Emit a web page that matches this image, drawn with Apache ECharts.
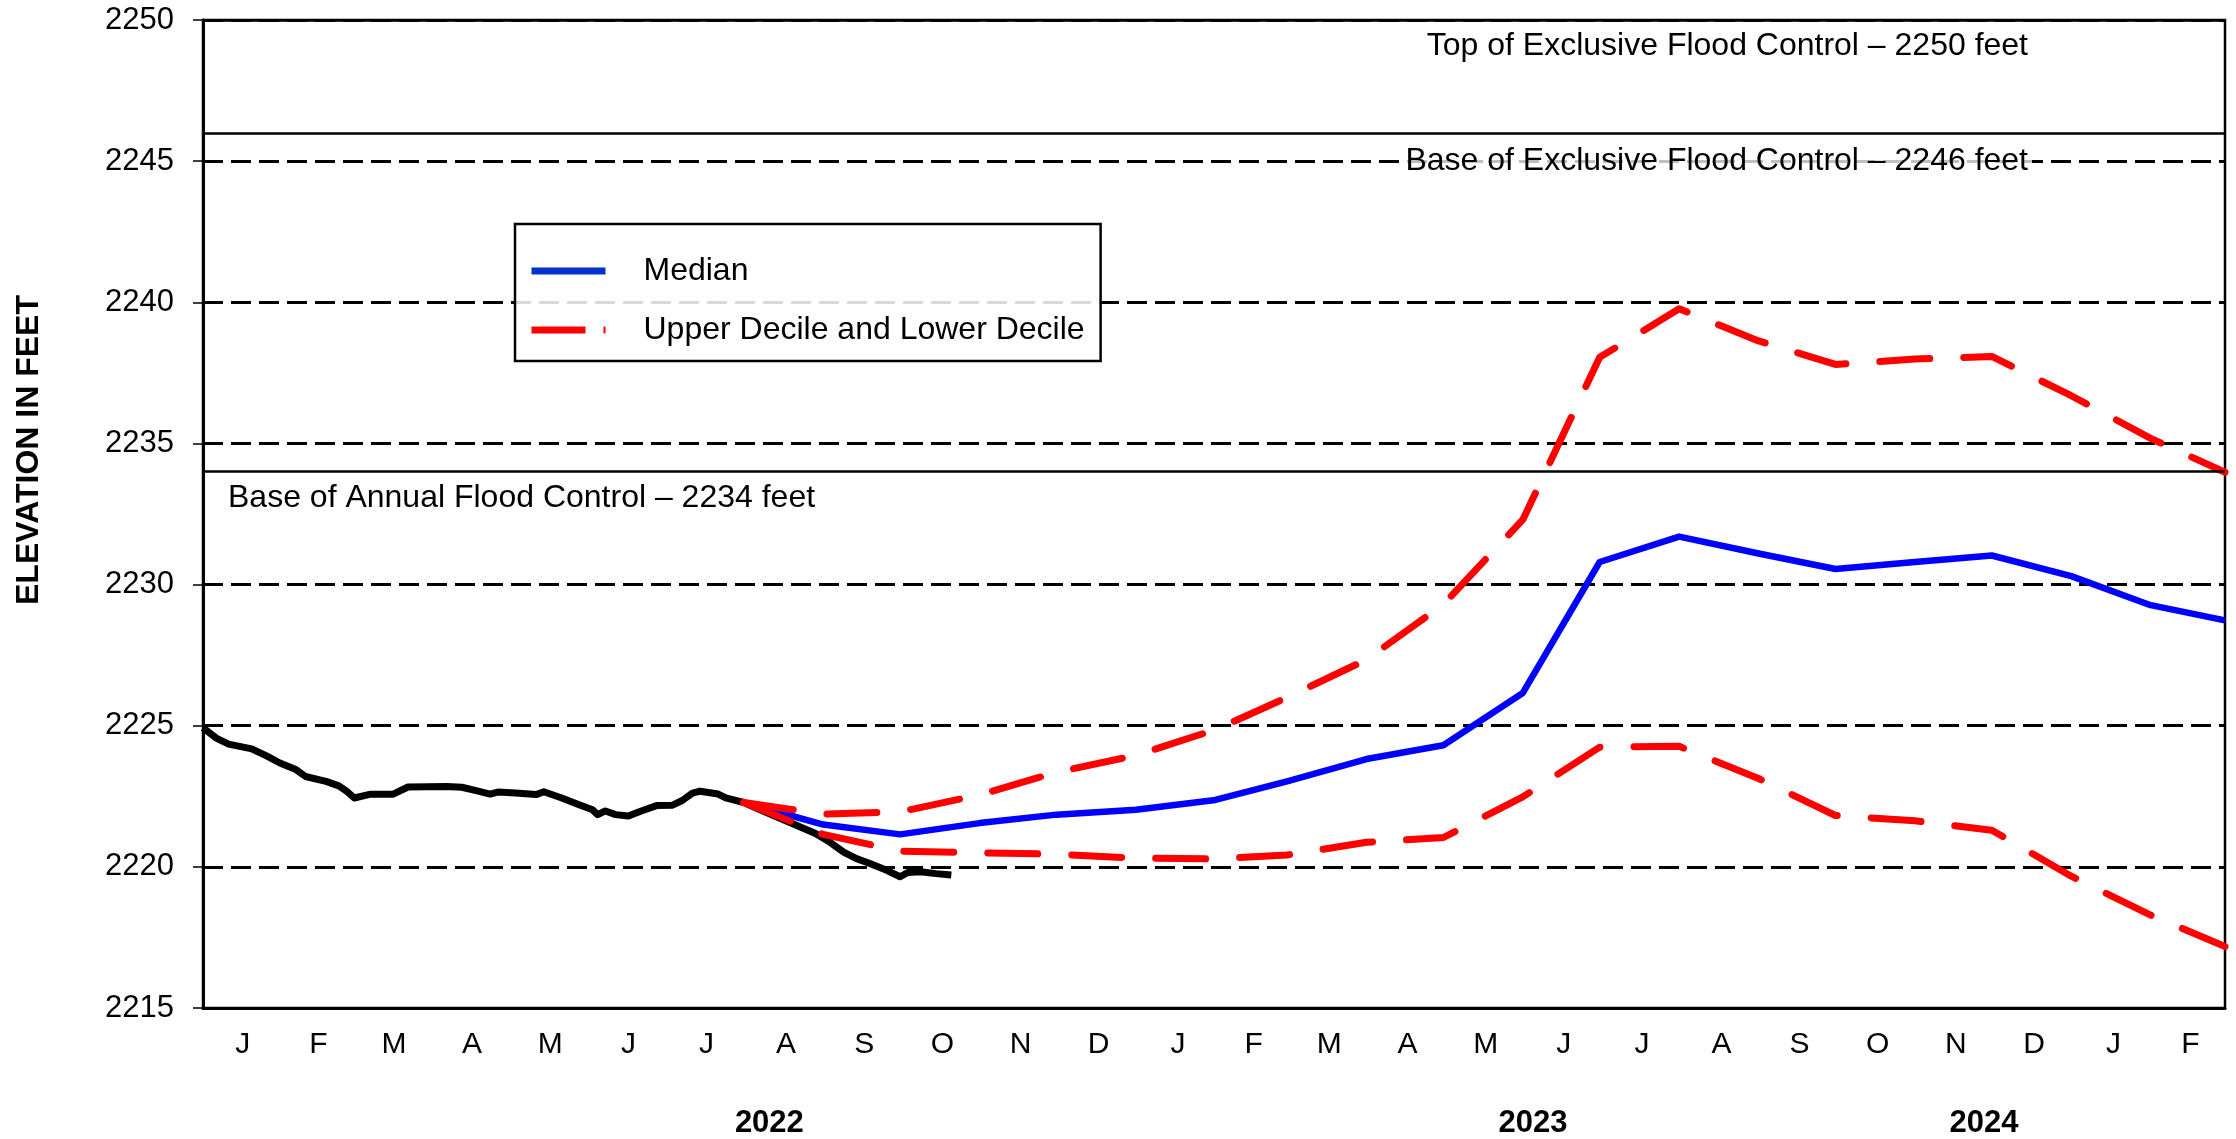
<!DOCTYPE html>
<html>
<head>
<meta charset="utf-8">
<script src="https://cdn.jsdelivr.net/npm/echarts@6/dist/echarts.min.js"></script>
<style>
  html, body { margin: 0; padding: 0; background: #ffffff; }
  #chart { width: 2236px; height: 1139px; }
</style>
</head>
<body>
<div id="chart"></div>
<script>
// ---- Reservoir elevation data (feet) ----
const obsDates = ['2022-01-01','2022-01-06','2022-01-11','2022-01-20','2022-01-26','2022-01-31',
  '2022-02-06','2022-02-10','2022-02-18','2022-02-23','2022-02-26','2022-03-01','2022-03-07',
  '2022-03-16','2022-03-22','2022-04-06','2022-04-12','2022-04-18','2022-04-23','2022-04-26',
  '2022-05-03','2022-05-11','2022-05-14','2022-05-21','2022-05-28','2022-06-02','2022-06-04',
  '2022-06-07','2022-06-11','2022-06-16','2022-06-21','2022-06-27','2022-07-03','2022-07-07',
  '2022-07-11','2022-07-14','2022-07-21','2022-07-24','2022-07-31','2022-08-08','2022-08-18',
  '2022-08-28','2022-09-02','2022-09-08','2022-09-13','2022-09-18','2022-09-25','2022-09-30',
  '2022-10-03','2022-10-08','2022-10-14','2022-10-20'];
const obsElev = [2224.93,2224.57,2224.35,2224.18,2223.92,2223.68,
  2223.46,2223.20,2223.03,2222.87,2222.68,2222.44,2222.57,
  2222.57,2222.83,2222.85,2222.82,2222.69,2222.58,2222.65,
  2222.62,2222.56,2222.66,2222.44,2222.19,2222.02,2221.85,
  2221.98,2221.85,2221.80,2221.98,2222.17,2222.18,2222.35,
  2222.61,2222.68,2222.58,2222.44,2222.28,2221.96,2221.57,
  2221.18,2220.91,2220.52,2220.29,2220.13,2219.87,2219.65,
  2219.80,2219.83,2219.76,2219.71];

// End-of-month projections
const fcDates = ['2022-07-31','2022-08-31','2022-09-30','2022-10-31','2022-11-30','2022-12-31',
  '2023-01-31','2023-02-28','2023-03-31','2023-04-30','2023-05-31','2023-06-30',
  '2023-07-31','2023-08-31','2023-09-30','2023-10-31','2023-11-30','2023-12-31',
  '2024-01-31','2024-02-29'];
const medianElev = [2222.28,2221.50,2221.15,2221.55,2221.85,2222.02,
  2222.37,2223.03,2223.82,2224.31,2226.16,2230.80,
  2231.70,2231.10,2230.55,2230.80,2231.03,2230.30,
  2229.27,2228.73];
const upperElev = [2222.28,2221.87,2221.95,2222.55,2223.35,2223.95,
  2224.86,2226.00,2227.34,2229.30,2232.30,2238.05,
  2239.77,2238.63,2237.80,2237.99,2238.08,2236.69,
  2235.18,2233.98];
const lowerElev = [2222.28,2221.15,2220.56,2220.50,2220.45,2220.31,
  2220.28,2220.42,2220.87,2221.04,2222.48,2224.24,
  2224.27,2223.13,2221.82,2221.63,2221.30,2219.67,
  2218.29,2217.18];

// Axis labels
const monthLetters = ['J','F','M','A','M','J','J','A','S','O','N','D'];
const yearLabels = ['2022','2023','2024'];
const yearLabelDates = ['2022-08-10','2023-06-04','2023-11-27'];
const axisStart = '2022-01-01';
const axisEnd = '2024-02-29';

// Flood-control levels
const topExclusive = 2250;
const baseExclusive = 2246;
const baseAnnual = 2234;

const FONT = '"Liberation Sans", Arial, Helvetica, sans-serif';

function ts(s) {
  const p = s.split('-').map(Number);
  return new Date(p[0], p[1] - 1, p[2]).getTime();
}
function pairs(dates, vals) {
  return dates.map((d, i) => [ts(d), vals[i]]);
}

// label each month at its midpoint
const monthMids = [];
for (let k = 0; k < 26; k++) {
  const s = new Date(2022, k, 1).getTime();
  const e = new Date(2022, k + 1, 1).getTime();
  monthMids.push((s + e) / 2);
}
const yearTs = yearLabelDates.map(ts);

const chart = echarts.init(document.getElementById('chart'), null, { renderer: 'canvas' });

const deciles = {
  type: 'line',
  name: 'Upper Decile and Lower Decile',
  symbol: 'none',
  showSymbol: false,
  z: 4,
  lineStyle: { color: '#ff0000', width: 7, type: [50, 34], cap: 'round', join: 'round' },
  itemStyle: { color: '#ff0000' }
};

const option = {
  animation: false,
  backgroundColor: '#ffffff',
  grid: {
    left: 203, right: 11, top: 20, bottom: 131,
    show: true, borderColor: '#000', borderWidth: 2.5, backgroundColor: 'transparent'
  },
  legend: {
    data: [
      { name: 'Median', lineStyle: { color: '#0033cc', width: 7, type: 'solid', cap: 'butt' } },
      { name: 'Upper Decile and Lower Decile', lineStyle: { color: '#ff0000', width: 7, type: [54, 18], cap: 'butt' } }
    ],
    orient: 'vertical',
    left: 515, top: 224,
    itemWidth: 74, itemHeight: 30, itemGap: 27,
    padding: [31, 16, 15, 13],
    borderColor: '#000', borderWidth: 2.5, borderRadius: 0,
    backgroundColor: 'rgba(255,255,255,0.85)',
    selectedMode: false,
    itemStyle: { color: 'transparent', borderWidth: 0, opacity: 0 },
    textStyle: { color: '#000', fontSize: 32, fontFamily: FONT, lineHeight: 30, padding: [0, 0, 0, 33] }
  },
  xAxis: [{
    type: 'value',
    min: ts(axisStart), max: ts(axisEnd),
    axisLine: { show: true, lineStyle: { color: '#000', width: 3 } },
    axisTick: { show: false },
    splitLine: { show: false },
    axisLabel: {
      customValues: monthMids,
      formatter: v => monthLetters[new Date(v).getMonth()],
      color: '#000', fontSize: 30, fontFamily: FONT, margin: 22, hideOverlap: false
    }
  }, {
    type: 'value',
    position: 'bottom',
    min: ts(axisStart), max: ts(axisEnd),
    axisLine: { show: false },
    axisTick: { show: false },
    splitLine: { show: false },
    axisLabel: {
      customValues: yearTs,
      formatter: v => {
        let best = 0;
        yearTs.forEach((t, i) => { if (Math.abs(t - v) < Math.abs(yearTs[best] - v)) best = i; });
        return yearLabels[best];
      },
      color: '#000', fontSize: 31, fontWeight: 'bold', fontFamily: FONT, margin: 100, hideOverlap: false
    }
  }],
  yAxis: {
    type: 'value',
    min: 2215, max: 2250, interval: 5,
    axisLine: { show: true, lineStyle: { color: '#000', width: 3 } },
    axisTick: { show: true, length: 10, lineStyle: { color: '#000', width: 1.5 } },
    axisLabel: { color: '#000', fontSize: 31, fontFamily: FONT, margin: 29, formatter: v => String(v) },
    splitLine: { show: true, lineStyle: { color: '#000', width: 3, type: [20, 8] } }
  },
  graphic: [{
    type: 'text',
    x: 29, y: 450,
    rotation: Math.PI / 2,
    style: {
      text: 'ELEVATION IN FEET',
      fontSize: 32, fontWeight: 'bold', fontFamily: FONT,
      fill: '#000', align: 'center', verticalAlign: 'middle'
    }
  }],
  series: [{
    type: 'line',
    name: 'Observed',
    data: pairs(obsDates, obsElev),
    symbol: 'none',
    showSymbol: false,
    z: 2,
    lineStyle: { color: '#000', width: 7, join: 'round' },
    itemStyle: { color: '#000' },
    markLine: {
      silent: true,
      symbol: ['none', 'none'],
      animation: false,
      lineStyle: { color: '#000', width: 2.5, type: 'solid' },
      label: { show: true, color: '#000', fontSize: 32, fontFamily: FONT },
      data: [
        { yAxis: topExclusive,
          label: { position: 'insideEndBottom', distance: [197, 10],
                   formatter: 'Top of Exclusive Flood Control \u2013 ' + topExclusive + ' feet' } },
        { yAxis: baseExclusive,
          label: { position: 'insideEndBottom', distance: [193, 12],
                   backgroundColor: 'rgba(255,255,255,0.75)', padding: [0, 4],
                   formatter: 'Base of Exclusive Flood Control \u2013 ' + baseExclusive + ' feet' } },
        { yAxis: baseAnnual,
          label: { position: 'insideStartBottom', distance: [25, 11],
                   formatter: 'Base of Annual Flood Control \u2013 ' + baseAnnual + ' feet' } }
      ]
    }
  }, {
    type: 'line',
    name: 'Median',
    data: pairs(fcDates, medianElev),
    symbol: 'none',
    showSymbol: false,
    z: 3,
    lineStyle: { color: '#0000ff', width: 6.5, join: 'round' },
    itemStyle: { color: '#0000ff' }
  },
  Object.assign({ data: pairs(fcDates, upperElev) }, deciles),
  Object.assign({ data: pairs(fcDates, lowerElev) }, deciles)
  ]
};

chart.setOption(option);
</script>
</body>
</html>
